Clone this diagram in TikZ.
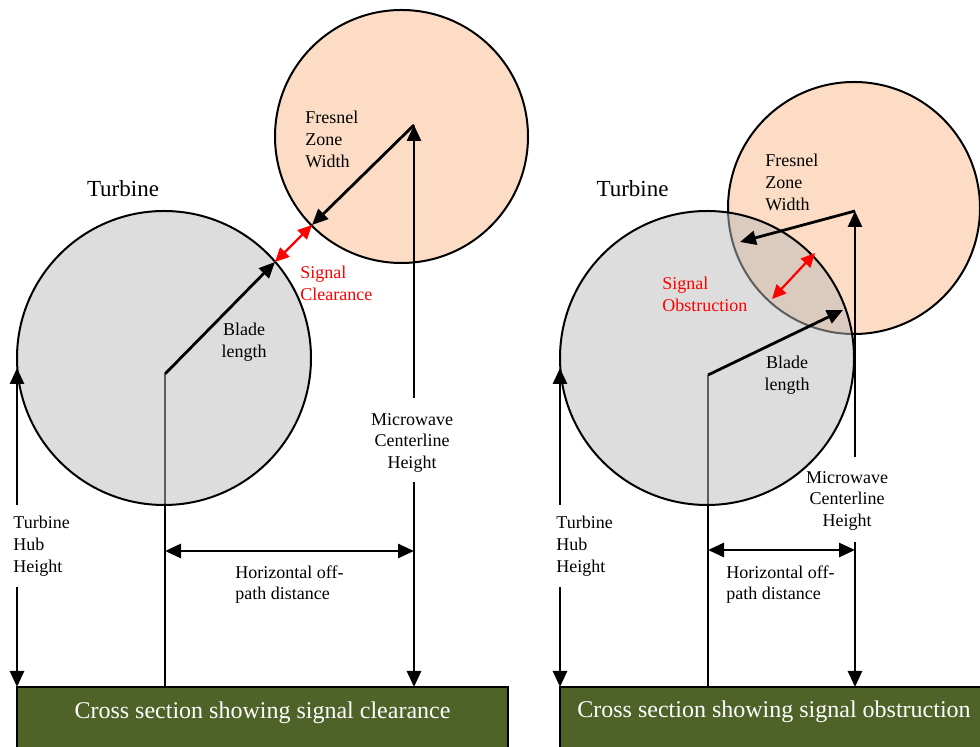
\documentclass[tikz,border=0pt]{standalone}
\usepackage{fontspec}
\setmainfont{Liberation Serif}
\usetikzlibrary{arrows.meta}
\definecolor{peach}{RGB}{252,220,196}
\definecolor{turbgray}{RGB}{187,187,187}
\definecolor{groundgreen}{RGB}{79,98,40}
\begin{document}
\begin{tikzpicture}[x=0.5pt,y=-0.5pt,
  arr/.style={line width=1.4pt,-{Triangle[length=8pt,width=7pt]}},
  darr/.style={line width=1.4pt,{Triangle[length=8pt,width=7pt]}-{Triangle[length=8pt,width=7pt]}},
  redarr/.style={red,line width=1.1pt,{Triangle[length=7pt,width=6.5pt]}-{Triangle[length=7pt,width=6.5pt]}},
  fresnel/.style={draw,line width=1pt,fill=peach},
  turbine/.style={draw,line width=1pt,fill=turbgray,fill opacity=0.5},
  hubline/.style={line width=1pt},
  small/.style={font=\fontsize{9}{10.8}\selectfont,inner sep=0pt},
  head/.style={font=\fontsize{11.5}{14}\selectfont,inner sep=0pt},
  ground/.style={draw,line width=0.8pt,fill=groundgreen},
  groundtext/.style={font=\fontsize{12}{14}\selectfont,text=white,inner sep=0pt}]
\useasboundingbox (0,0) rectangle (980,747);
\clip (0,0) rectangle (980,747);

% ================= LEFT PANEL =================
\path[fresnel] (401.5,136.5) circle[radius=126.5];
\coordinate (Lhub) at (165,374);
\coordinate (Lhubg) at (165,687);
\draw[hubline] (Lhub) -- (Lhubg);
\path[turbine] (164,358) circle[radius=147];

\coordinate (Lblade) at (275,262);
\coordinate (Lfc) at (414,125);
\coordinate (Lfedge) at (312,225);
\coordinate (Lmw1) at (414,398);
\coordinate (Lmw2) at (414,482);
\coordinate (Lmwg) at (414,687);
\coordinate (Lhh0) at (17,368);
\coordinate (Lhh1) at (17,505);
\coordinate (Lhh2) at (17,587);
\coordinate (Lhhg) at (17,687);
\coordinate (Lho1) at (165,551);
\coordinate (Lho2) at (414,551);

\draw[arr] (Lhub) -- (Lblade);
\draw[arr] (Lfc) -- (Lfedge);
\draw[redarr] (Lfedge) -- (Lblade);
\draw[arr] (Lmw1) -- (Lfc);
\draw[arr] (Lmw2) -- (Lmwg);
\draw[arr] (Lhh1) -- (Lhh0);
\draw[arr] (Lhh2) -- (Lhhg);
\draw[darr] (Lho1) -- (Lho2);

\node[head,anchor=base] (Lturb) at (123,197) {Turbine};
\node[small,align=left,anchor=north west] (Lfz) at (305,111) {Fresnel\\Zone\\Width};
\node[small,align=left,anchor=north west,text=red] (Lsc) at (300,266) {Signal\\Clearance};
\node[small,align=center,anchor=north] (Lbl) at (244,323) {Blade\\length};
\node[small,align=center,anchor=north] (Lmw) at (412,413) {Microwave\\Centerline\\Height};
\node[small,align=left,anchor=north west] (Lho) at (235,565) {Horizontal off-\\path distance};
\node[small,align=left,anchor=north west] (Lhh) at (13,516) {Turbine\\Hub\\Height};

\path[ground] (17,687) rectangle (508,770);
\node[groundtext,anchor=base] (Lgt) at (262.5,719) {Cross section showing signal clearance};

% ================= RIGHT PANEL =================
\path[fresnel] (854,208) circle[radius=126];
\coordinate (Rhub) at (708,375);
\coordinate (Rhubg) at (708,687);
\draw[hubline] (Rhub) -- (Rhubg);
\path[turbine] (707,358) circle[radius=147];

\coordinate (Rblade) at (843,310);
\coordinate (Rfc) at (855,211);
\coordinate (Rfedge) at (740,242);
\coordinate (Rred1) at (815,253);
\coordinate (Rred2) at (772,299);
\coordinate (Rmw1) at (855,457);
\coordinate (Rmw2) at (855,542);
\coordinate (Rmwg) at (855,687);
\coordinate (Rhh0) at (560,368);
\coordinate (Rhh1) at (560,505);
\coordinate (Rhh2) at (560,587);
\coordinate (Rhhg) at (560,687);
\coordinate (Rho1) at (708,550);
\coordinate (Rho2) at (855,550);

\draw[arr] (Rhub) -- (Rblade);
\draw[arr] (Rfc) -- (Rfedge);
\draw[redarr] (Rred1) -- (Rred2);
\draw[arr] (Rmw1) -- (Rfc);
\draw[arr] (Rmw2) -- (Rmwg);
\draw[arr] (Rhh1) -- (Rhh0);
\draw[arr] (Rhh2) -- (Rhhg);
\draw[darr] (Rho1) -- (Rho2);

\node[head,anchor=base] (Rturb) at (632.5,197) {Turbine};
\node[small,align=left,anchor=north west] (Rfz) at (765,154) {Fresnel\\Zone\\Width};
\node[small,align=left,anchor=north west,text=red] (Rso) at (662,277) {Signal\\Obstruction};
\node[small,align=center,anchor=north] (Rbl) at (787,356) {Blade\\length};
\node[small,align=center,anchor=north] (Rmw) at (847,471) {Microwave\\Centerline\\Height};
\node[small,align=left,anchor=north west] (Rho) at (726,565) {Horizontal off-\\path distance};
\node[small,align=left,anchor=north west] (Rhh) at (556,516) {Turbine\\Hub\\Height};

\path[ground] (560,687) rectangle (988,770);
\node[groundtext,anchor=base] (Rgt) at (774,718) {Cross section showing signal obstruction};
\end{tikzpicture}
\end{document}
